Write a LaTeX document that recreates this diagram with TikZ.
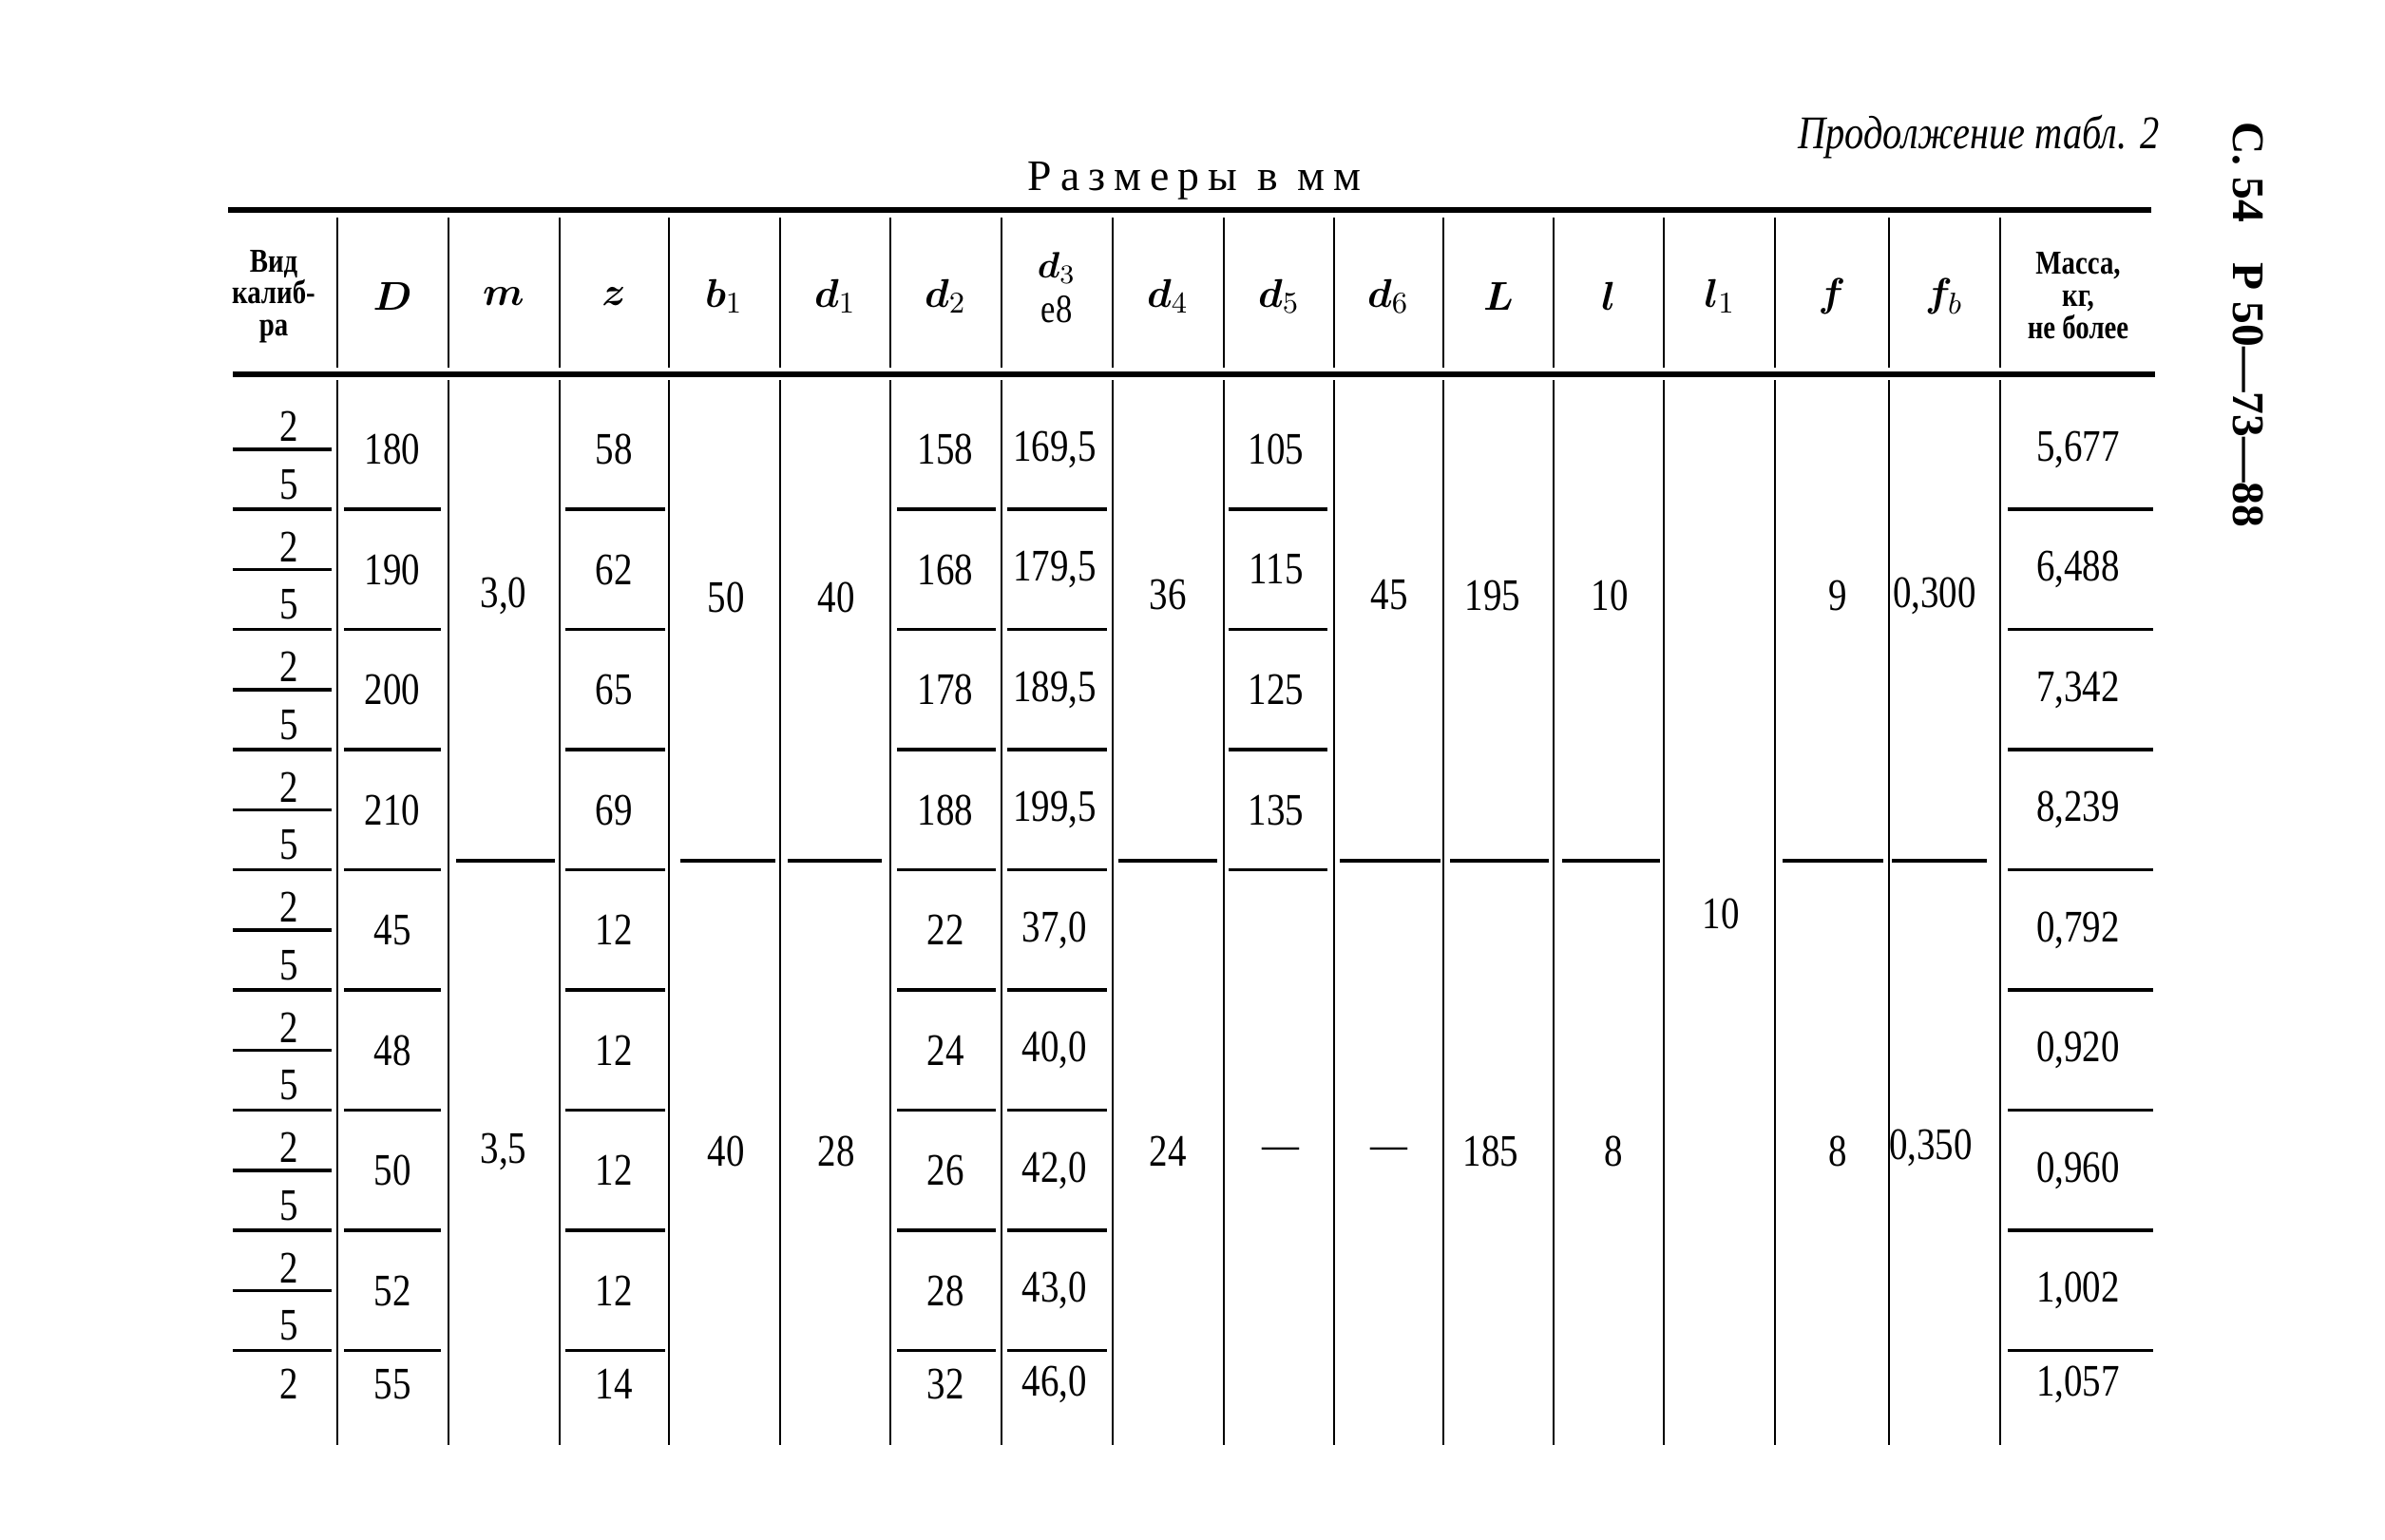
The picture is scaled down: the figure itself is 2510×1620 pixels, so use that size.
\documentclass[tikz,border=0pt]{standalone}
\usepackage{fontspec}
\usepackage{bm}
\setmainfont[FakeStretch=0.82]{Liberation Serif}
\newfontfamily\spacedfont[LetterSpace=20]{Liberation Serif}
\newfontfamily\sidefont{Liberation Serif}
\begin{document}
\begin{tikzpicture}[x=0.01cm,y=-0.01cm,
  rule/.style={line width=1.5pt},
  sepline/.style={line width=0.9pt},
  colline/.style={line width=0.7pt},
  cell/.style={inner sep=0pt,font=\fontsize{13.5}{15}\selectfont},
  head/.style={inner sep=0pt,font=\fontsize{13}{14}\selectfont},
  headtxt/.style={inner sep=0pt,align=center,font=\fontsize{10}{9.6}\selectfont\bfseries}]

%Page
\useasboundingbox (0,0) rectangle (2510,1620);

%Titles
\node[anchor=east,inner sep=0pt,font=\fontsize{14}{16}\selectfont\itshape] (cont) at (2273,144) {Продолжение табл. 2};
\node[inner sep=0pt,font=\spacedfont\fontsize{13}{15}\selectfont] (units) at (1257,190) {Размеры в мм};
\node[anchor=west,rotate=-90,inner sep=0pt,font=\sidefont\fontsize{13.5}{16}\selectfont\bfseries] (page) at (2366,128) {С. 54\hspace{0.9em}Р 50—73—88};

%Rules
\draw[rule] (240,221) -- (2264,221);
\draw[rule] (245,394) -- (2268,394);

%Column lines
\foreach \cx in {355,472,589,704,821,937,1054,1171,1288,1404,1519,1635,1751,1868,1988,2105}{
  \draw[colline] (\cx,229) -- (\cx,387);
  \draw[colline] (\cx,400) -- (\cx,1521);
}

%Header
\node[headtxt] (hVid) at (288,312) {Вид\\калиб-\\ра};
\node[head] (hD) at (413,312) {$\bm{D}$};
\node[head] (hm) at (530,312) {$\bm{m}$};
\node[head] (hz) at (646,312) {$\bm{z}$};
\node[head] (hb1) at (762,312) {$\bm{b}_1$};
\node[head] (hd1) at (879,312) {$\bm{d}_1$};
\node[head] (hd2) at (995,312) {$\bm{d}_2$};
\node[head,font=\fontsize{11}{12}\selectfont] (hd3) at (1112,282) {$\bm{d}_3$};
\node[head,font=\fontsize{12}{12}\selectfont] (he8) at (1112,326) {e8};
\node[head] (hd4) at (1229,312) {$\bm{d}_4$};
\node[head] (hd5) at (1346,312) {$\bm{d}_5$};
\node[head] (hd6) at (1461,312) {$\bm{d}_6$};
\node[head] (hL) at (1577,312) {$\bm{L}$};
\node[head] (hl) at (1693,312) {$\bm{l}$};
\node[head] (hl1) at (1810,312) {$\bm{l}_1$};
\node[head] (hf) at (1928,312) {$\bm{f}$};
\node[head] (hfb) at (2046,312) {$\bm{f}_b$};
\node[headtxt] (hMass) at (2187,311) {Масса,\\кг,\\не более};

%Rows 1-8
\foreach \r/\cy/\vD/\vz/\vda/\vdb/\vm in {1/473/180/58/158/{169,5}/{5,677},
  2/599.5/190/62/168/{179,5}/{6,488}, 3/726/200/65/178/{189,5}/{7,342},
  4/852.5/210/69/188/{199,5}/{8,239}, 5/979/45/12/22/{37,0}/{0,792},
  6/1105.5/48/12/24/{40,0}/{0,920}, 7/1232/50/12/26/{42,0}/{0,960},
  8/1358.5/52/12/28/{43,0}/{1,002}}{
  \node[cell] (two\r) at (304,\cy-24) {2};
  \node[cell] (five\r) at (304,\cy+37) {5};
  \draw[sepline] (245,\cy) -- (349,\cy);
  \draw[sepline] (245,\cy+63) -- (349,\cy+63);
  \node[cell] (D\r) at (413,\cy) {\vD};
  \node[cell] (z\r) at (646,\cy) {\vz};
  \node[cell] (dd\r) at (995,\cy) {\vda};
  \node[cell] (ddd\r) at (1110,\cy) {\vdb};
  \node[cell] (mass\r) at (2187,\cy) {\vm};
  \draw[sepline] (362,\cy+63) -- (464,\cy+63);
  \draw[sepline] (595,\cy+63) -- (700,\cy+63);
  \draw[sepline] (944,\cy+63) -- (1048,\cy+63);
  \draw[sepline] (1060,\cy+63) -- (1165,\cy+63);
  \draw[sepline] (2113,\cy+63) -- (2266,\cy+63);
}

%Row 9
\node[cell] (two9) at (304,1457) {2};
\node[cell] (D9) at (413,1457) {55};
\node[cell] (z9) at (646,1457) {14};
\node[cell] (dd9) at (995,1457) {32};
\node[cell] (ddd9) at (1110,1457) {46,0};
\node[cell] (mass9) at (2187,1457) {1,057};

%d5 rows 1-4
\foreach \r/\cy/\v in {1/473/105, 2/599.5/115, 3/726/125, 4/852.5/135}{
  \node[cell] (dv\r) at (1343,\cy) {\v};
  \draw[sepline] (1293,\cy+63) -- (1397,\cy+63);
}

%Merged cells
\node[cell] (m1) at (530,627) {3,0};
\node[cell] (m2) at (530,1212) {3,5};
\node[cell] (b1) at (764,629) {50};
\node[cell] (b2) at (764,1212) {40};
\node[cell] (da1) at (880,629) {40};
\node[cell] (da2) at (880,1212) {28};
\node[cell] (dc1) at (1229,626) {36};
\node[cell] (dc2) at (1229,1212) {24};
\node[cell] (dv5) at (1348,1214) {—};
\node[cell] (de1) at (1462,626) {45};
\node[cell] (de2) at (1462,1214) {—};
\node[cell] (L1) at (1571,627) {195};
\node[cell] (L2) at (1569,1212) {185};
\node[cell] (l1) at (1694,627) {10};
\node[cell] (l2) at (1698,1212) {8};
\node[cell] (la) at (1811,962) {10};
\node[cell] (f1) at (1934,627) {9};
\node[cell] (f2) at (1934,1212) {8};
\node[cell] (fb1) at (2036,627) {0,300};
\node[cell] (fb2) at (2032,1208) {0,350};

%Group rules
\foreach \xa/\xb in {480/584,716/816,829/928,1177/1281,1410/1516,1526/1630,1644/1747,1876/1982,1991/2091}
  \draw[sepline] (\xa,906) -- (\xb,906);

\end{tikzpicture}
\end{document}
